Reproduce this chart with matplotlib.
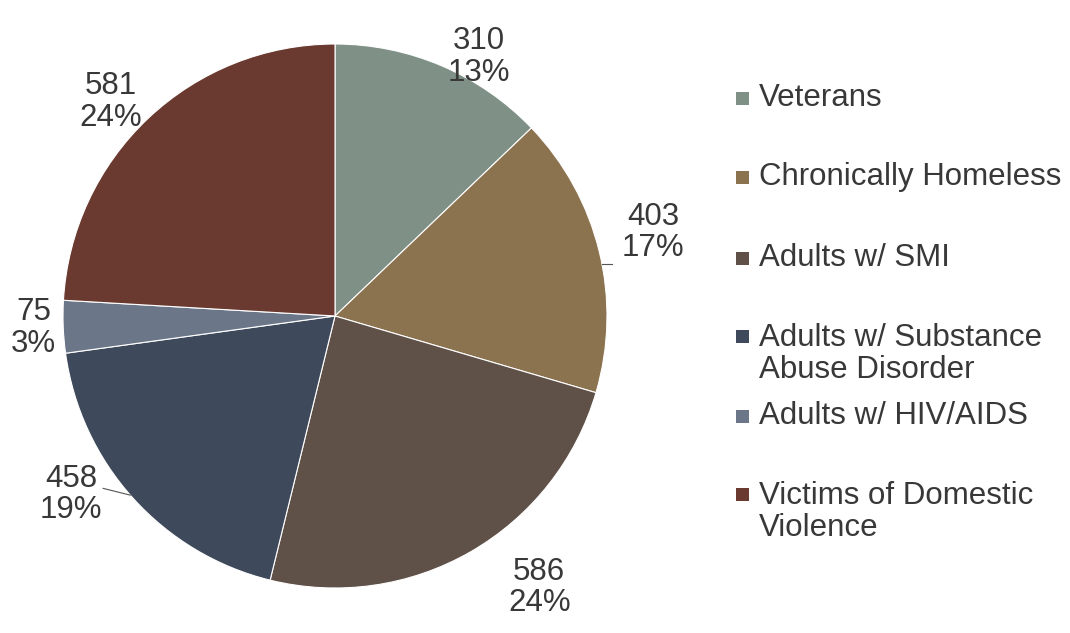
import numpy as np
import matplotlib.pyplot as plt
from matplotlib.patches import Rectangle

# data
categories = ["Veterans", "Chronically Homeless", "Adults w/ SMI",
              "Adults w/ Substance\nAbuse Disorder", "Adults w/ HIV/AIDS",
              "Victims of Domestic\nViolence"]
counts = [310, 403, 586, 458, 75, 581]
pct_labels = ["13%", "17%", "24%", "19%", "3%", "24%"]
colors = ["#7f9187", "#8c7350", "#5f5048", "#3e4a5b", "#6c7689", "#6a3a30"]

plt.rcParams['font.family'] = ['Liberation Sans', 'DejaVu Sans']
txt_col = "#383838"

fig = plt.figure(figsize=(10.7, 6.33), dpi=100)
R = 272
ax = fig.add_axes([(335 - R) / 1070, (317 - R) / 633, 2 * R / 1070, 2 * R / 633])

wedges, _ = ax.pie(counts, colors=colors, startangle=90, counterclock=False,
                   wedgeprops=dict(edgecolor="white", linewidth=0.8))
ax.set_xlim(-1, 1)
ax.set_ylim(-1, 1)
ax.set_aspect("equal")
ax.axis("off")

# data labels: distance from centre and small angle nudges
label_dist = [1.09, 1.21, 1.25, 1.17, 1.11, 1.14]
angle_nudge = [-6, 1, 7, -8, 0, 3]
for w, n, p, d, da in zip(wedges, counts, pct_labels, label_dist, angle_nudge):
    mid = np.deg2rad((w.theta1 + w.theta2) / 2 + da)
    ax.text(d * np.cos(mid), d * np.sin(mid), f"{n}\n{p}", ha="center", va="center",
            fontsize=22.5, color=txt_col, linespacing=1.05, clip_on=False)

# leader lines
def polar(r, a):
    a = np.deg2rad(a)
    return r * np.cos(a), r * np.sin(a)

x0, y0 = polar(1.0, 11)
ax.plot([x0, x0 + 0.035], [y0, y0], color="#555555", lw=0.8, clip_on=False)
x0, y0 = polar(1.0, -138.8)
ax.plot([x0, x0 - 0.1], [y0, y0 + 0.025], color="#555555", lw=0.8, clip_on=False)

# legend drawn by hand
leg_y = [98, 177, 258, 354, 416, 512]
for lab, c, yy in zip(categories, colors, leg_y):
    fy = 1 - yy / 633
    nlines = lab.count("\n") + 1
    sq_y = fy + (nlines - 1) * 18 / 633
    fig.patches.append(Rectangle((736 / 1070, sq_y - 7 / 633), 13 / 1070, 13 / 633,
                                 transform=fig.transFigure, facecolor=c,
                                 edgecolor="none"))
    fig.text(759 / 1070, fy, lab, ha="left", va="center", fontsize=22.5,
             color=txt_col, linespacing=1.1)

fig.savefig("out.png", dpi=100, facecolor="white")
